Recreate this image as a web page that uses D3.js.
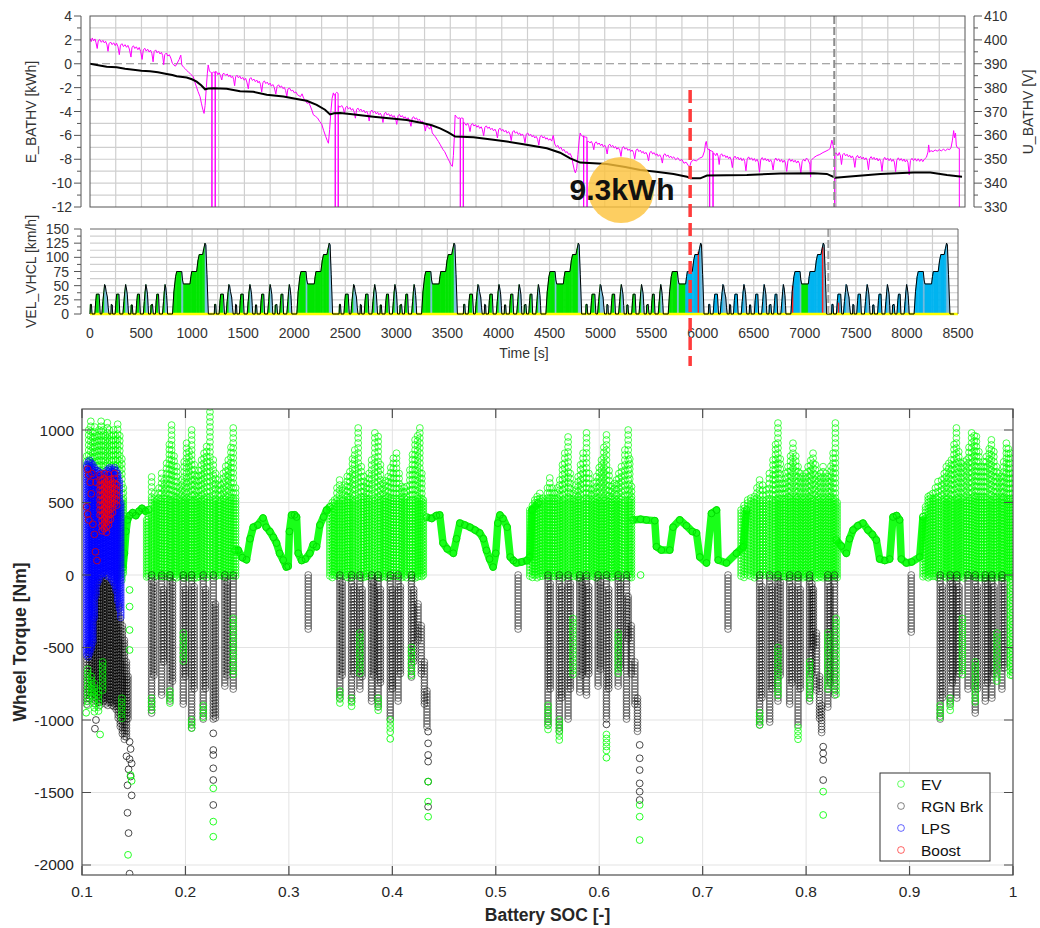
<!DOCTYPE html>
<html><head><meta charset="utf-8">
<script src="https://cdn.jsdelivr.net/npm/d3@7"></script>
<style>
body{margin:0;background:#fff;}
text{font-family:"Liberation Sans",Arial,sans-serif;}
</style></head><body>
<svg id="c" width="1040" height="928"></svg>
<script>
// ---------------- DATA ----------------
// top plot: battery energy [s, kWh]
const energy = [[0,0],[80,-0.12],[162,-0.25],[259,-0.3],[340,-0.42],[421,-0.5],[500,-0.58],[583,-0.62],[660,-0.72],[745,-0.85],[800,-0.95],[842,-1.05],[939,-1.15],[990,-1.3],[1036,-1.5],[1080,-1.8],[1118,-2.14],[1150,-2.08],[1199,-2.05],[1328,-2.1],[1458,-2.3],[1587,-2.35],[1717,-2.6],[1879,-2.75],[2008,-2.95],[2105,-3.1],[2202,-3.45],[2283,-3.85],[2332,-4.24],[2370,-4.15],[2430,-4.12],[2526,-4.2],[2753,-4.43],[3077,-4.71],[3239,-4.99],[3320,-5.15],[3401,-5.41],[3480,-5.75],[3547,-6.1],[3725,-6.16],[3900,-6.35],[4049,-6.52],[4211,-6.74],[4438,-7.08],[4567,-7.45],[4665,-7.92],[4762,-8.28],[4850,-8.32],[5021,-8.39],[5200,-8.65],[5345,-8.9],[5500,-9.05],[5669,-9.23],[5799,-9.46],[5831,-9.6],[5928,-9.6],[5993,-9.37],[6381,-9.32],[6706,-9.2],[7029,-9.17],[7158,-9.23],[7240,-9.54],[7353,-9.46],[7677,-9.23],[8001,-9.12],[8163,-9.12],[8325,-9.32],[8471,-9.46]];
// top plot: battery voltage [s, V]
const voltage = [[0,400.6],[12,399.3],[22,400.8],[35,399.6],[48,400.4],[58,398.9],[70,396.4],[80,399.6],[95,400.1],[110,399],[125,399.8],[140,398.7],[152,399.4],[165,397.9],[175,395.2],[185,398.4],[200,399.1],[215,398],[230,398.8],[245,397.6],[258,398.6],[272,397.1],[285,393.8],[296,397.8],[310,398.4],[325,397.2],[340,398],[355,396.9],[368,397.7],[382,396.2],[398,392.8],[408,396.9],[422,397.5],[436,396.4],[450,397.1],[465,395.9],[478,396.8],[492,395.2],[506,391.8],[518,395.8],[532,396.5],[546,395.3],[560,396.1],[575,394.9],[588,395.7],[601,394.3],[613,390.8],[623,395.1],[638,395.8],[652,394.6],[666,395.3],[680,394.1],[694,394.8],[706,393.4],[716,389.6],[726,393.8],[742,394.5],[756,393.2],[770,393.8],[785,392.4],[800,390.2],[815,389.4],[830,389],[848,390.3],[866,391.8],[882,393.6],[892,389.5],[910,388.5],[925,387.9],[940,387.2],[958,386.4],[975,385.8],[990,385.2],[1004,384.5],[1018,382.4],[1035,380.2],[1050,378.3],[1069,376.2],[1082,373.5],[1095,371],[1108,369.2],[1118,372.5],[1130,380],[1140,386],[1148,389.5],[1160,387],[1172,386.4],[1183,386.2],[1183,330],[1186,330],[1186,386],[1200,386.6],[1215,386.3],[1215,330],[1218,330],[1218,386.8],
[1230,386.6],[1242,385.4],[1255,386.2],[1268,385],[1280,383.2],[1290,385.7],[1302,386],[1318,385.1],[1333,385.7],[1348,384.6],[1360,385.3],[1372,384.2],[1385,384.8],[1395,383.5],[1405,380.8],[1415,384.6],[1428,385.2],[1442,384.1],[1456,384.8],[1470,383.6],[1484,384.3],[1498,383.1],[1512,383.9],[1524,382.3],[1538,379.5],[1550,383.6],[1563,384.2],[1578,383],[1592,383.6],[1606,382.5],[1620,383.2],[1632,382],[1644,382.7],[1656,381.4],[1668,378.2],[1680,382.2],[1694,382.8],[1708,381.7],[1722,382.3],[1736,381.2],[1750,381.9],[1762,380.6],[1776,381.3],[1790,380.1],[1805,377.3],[1818,380.6],[1832,381.2],[1846,380.1],[1860,380.7],[1874,379.6],[1888,380.1],[1900,378.8],[1912,376.3],[1922,379.4],[1938,379.8],[1955,378.6],[1970,378.9],[1985,377.8],[2000,378.2],[2015,377],[2030,376.6],[2045,376.2],[2060,377.4],[2075,375.6],[2095,374.3],[2110,373.4],[2125,373.8],[2140,372.3],[2155,370.6],[2170,368.6],[2190,368],[2210,367.3],[2230,365.9],[2250,364.8],[2270,362],[2290,359.5],[2305,357.8],[2316,356.7],[2328,362.5],[2340,370],[2352,375.5],[2364,377.8],[2372,376.8],[2381,377.2],[2381,330],[2384,330],[2384,377.5],[2396,378],[2410,377.6],[2410,330],[2413,330],[2413,372.4],
[2430,371.8],[2445,372.5],[2460,371.4],[2472,369],[2482,371.6],[2496,372.2],[2510,371],[2525,371.7],[2540,370.5],[2552,371.2],[2565,370],[2578,367.2],[2590,370.9],[2604,371.4],[2618,370.3],[2632,371],[2646,369.9],[2660,370.6],[2674,369.4],[2688,370.1],[2700,368.9],[2712,366],[2724,370],[2738,370.6],[2752,369.5],[2766,370.1],[2780,369],[2794,369.7],[2806,368.6],[2820,369.3],[2834,368.2],[2846,365.4],[2858,369],[2872,369.7],[2886,368.5],[2900,369.1],[2914,368],[2928,368.7],[2940,367.6],[2954,368.3],[2968,367.1],[2980,364.6],[2992,368.2],[3006,368.8],[3020,367.7],[3034,368.3],[3048,367.2],[3062,367.8],[3076,366.7],[3090,367.4],[3104,366.2],[3118,363.8],[3130,367.3],[3144,367.8],[3158,366.8],[3172,367.3],[3186,366.2],[3200,366.8],[3215,365.5],[3230,366],[3245,364.6],[3258,361.8],[3270,364.8],[3285,363.3],[3300,362.6],[3312,364.2],[3325,361],[3340,360.2],[3355,359.4],[3370,358.4],[3385,357.4],[3400,356.3],[3415,355.1],[3430,354],[3445,353.2],[3460,351.8],[3475,350.4],[3490,349.2],[3505,347.8],[3520,347],[3530,351.5],[3540,360],[3547,368.5],[3560,367.8],[3575,367],[3586,367.4],[3596,367.2],[3596,330],[3599,330],[3599,367],[3610,367.3],[3625,367.1],[3625,330],[3628,330],[3628,365.6],
[3640,365],[3655,364.2],[3668,365.1],[3680,364],[3692,361.6],[3702,364.4],[3716,365],[3730,363.9],[3744,364.5],[3758,363.4],[3772,364.1],[3786,362.9],[3800,363.6],[3812,362.4],[3824,359.8],[3836,363.4],[3850,364],[3864,362.9],[3878,363.5],[3892,362.4],[3906,363],[3920,361.9],[3934,362.6],[3946,361.5],[3958,358.9],[3970,362.5],[3984,363],[3998,361.9],[4012,362.5],[4026,361.4],[4040,362.1],[4052,360.9],[4066,361.6],[4080,360.5],[4092,357.8],[4104,361.4],[4118,362],[4132,360.9],[4146,361.5],[4160,360.4],[4174,361],[4186,359.9],[4200,360.6],[4214,359.5],[4226,356.9],[4238,360.5],[4252,361],[4266,359.9],[4280,360.5],[4294,359.4],[4308,360],[4320,358.9],[4334,359.6],[4348,358.4],[4360,355.9],[4372,359.4],[4386,360],[4400,358.9],[4414,359.5],[4428,358.4],[4440,359],[4455,358],[4470,358.6],[4485,357.6],[4500,360],[4515,356.4],[4530,355.2],[4545,355.8],[4560,354.4],[4575,355],[4590,353.6],[4605,354.1],[4620,352.8],[4635,353.2],[4650,352],[4665,352.4],[4680,350.8],[4692,348],[4705,345.5],[4715,344.3],[4728,346],[4740,352],[4752,358],[4762,361],[4772,360],[4784,359.6],[4794,359.8],[4794,330],[4797,330],[4797,359.5],[4810,359.3],[4827,359.2],[4827,330],[4830,330],[4830,357.5],
[4845,357.4],[4858,356.8],[4870,357.5],[4882,356.4],[4894,354],[4904,356.8],[4918,357.3],[4932,356.2],[4946,356.8],[4960,355.7],[4974,356.4],[4986,355.2],[5000,355.9],[5012,354.8],[5024,352.2],[5036,355.8],[5050,356.3],[5064,355.2],[5078,355.8],[5092,354.7],[5106,355.3],[5118,354.2],[5132,354.9],[5146,353.8],[5158,351.2],[5170,354.8],[5184,355.3],[5198,354.2],[5212,354.8],[5226,353.7],[5240,354.3],[5252,353.2],[5266,353.9],[5280,352.8],[5292,350.2],[5304,353.8],[5318,354.3],[5332,353.2],[5346,353.8],[5360,352.7],[5374,353.3],[5386,352.2],[5400,352.9],[5414,351.8],[5426,349.3],[5438,352.8],[5452,353.3],[5466,352.2],[5480,352.8],[5494,351.7],[5508,352.3],[5520,351.2],[5534,351.9],[5548,350.8],[5560,348.4],[5572,351.8],[5586,352.3],[5600,351.2],[5614,351.8],[5628,350.7],[5642,351.3],[5656,350.4],[5670,351],[5690,349.8],[5710,350.6],[5730,349.4],[5750,349.9],[5770,348.3],[5790,348.8],[5810,347.5],[5825,346.8],[5840,349],[5863,349.7],[5890,349.3],[5920,350.4],[5950,351],[5970,353.5],[5980,357],[5987,357.5],[5995,355],[6005,354],[6018,354.2],[6018,330],[6021,330],[6021,353.8],[6035,353.5],[6051,353.2],[6051,330],[6054,330],[6054,352.6],
[6065,352.4],[6078,351.5],[6090,352.6],[6102,351.2],[6112,347.8],[6122,351.6],[6136,352.3],[6150,351.2],[6164,351.8],[6178,350.7],[6190,351.4],[6204,350.2],[6216,351],[6228,349.8],[6240,346.5],[6252,350.5],[6266,351.3],[6280,350.2],[6294,350.9],[6308,349.7],[6322,350.6],[6334,349.4],[6348,350.3],[6360,349.1],[6372,345.2],[6384,350],[6398,351],[6412,349.9],[6426,350.6],[6440,349.5],[6454,350.3],[6466,349.1],[6480,350],[6492,348.8],[6504,344.6],[6516,349.8],[6530,350.7],[6544,349.6],[6558,350.4],[6572,349.3],[6586,350.1],[6598,348.9],[6612,349.8],[6624,348.6],[6636,345.5],[6648,349.5],[6662,350.5],[6676,349.4],[6690,350.2],[6704,349],[6718,349.9],[6730,348.7],[6744,349.6],[6756,348.4],[6768,344.9],[6780,349.3],[6794,350.2],[6808,349.1],[6822,349.9],[6836,348.8],[6850,349.6],[6864,348.4],[6878,349.3],[6892,348.2],[6905,344.2],[6918,349],[6932,350],[6946,349.2],[6960,350.5],[6975,349.8],[6993,348],[7000,342.5],[7005,349.5],[7029,350.6],[7060,351.5],[7090,352],[7120,352.8],[7150,353.4],[7175,354],[7190,354.5],[7207,358],[7218,356],[7233,353],[7233,330],[7236,330],[7236,352.5],
[7250,352.6],[7265,351.5],[7278,352.8],[7290,351.4],[7300,347.8],[7312,351.9],[7326,352.5],[7340,351.4],[7354,352.1],[7368,351],[7380,351.7],[7394,350.6],[7406,351.4],[7418,350.2],[7430,346.6],[7442,350.8],[7456,351.6],[7470,350.5],[7484,351.2],[7498,350.1],[7512,350.9],[7524,349.8],[7538,350.6],[7550,349.5],[7562,345.6],[7574,350.2],[7588,351.1],[7602,350],[7616,350.8],[7630,349.7],[7644,350.5],[7656,349.3],[7670,350.2],[7682,349],[7694,345],[7706,349.8],[7720,350.8],[7734,349.7],[7748,350.5],[7762,349.4],[7776,350.3],[7788,349.1],[7802,350],[7814,348.8],[7826,344.8],[7838,349.6],[7852,350.6],[7866,349.5],[7880,350.3],[7894,349.2],[7908,350.1],[7920,348.9],[7934,349.8],[7946,348.6],[7958,343.5],[7970,349.5],[7985,350.4],[8000,349.4],[8015,350.3],[8030,349.2],[8045,350.2],[8060,349.1],[8075,350.1],[8090,349],[8105,350],[8125,350.8],[8140,353],[8147,356],[8155,353],[8170,353.6],[8190,353.2],[8210,353.9],[8230,353.4],[8250,354],[8270,353.5],[8290,354.2],[8310,353.6],[8330,354.3],[8350,354],[8365,355],[8378,358],[8390,362],[8398,359],[8408,361],[8415,356],[8422,355],[8435,354.6],[8445,354.5],[8445,330]];

// speed plot: one drive cycle [s relative, km/h], repeated at the cycle starts
const cycleProfile = [[0,0],[4,17],[14,17],[20,0],[47,0],[57,24],[63,35],[89,35],[100,0],[116,0],[126,22],[135,38],[143,52],[150,50],[158,40],[170,30],[178,12],[185,0],[205,0],[209,17],[218,16],[222,0],[246,0],[255,24],[261,35],[283,35],[292,0],[322,0],[332,22],[341,40],[349,52],[356,46],[365,35],[372,15],[377,0],[400,0],[404,16],[414,16],[420,0],[450,0],[459,24],[465,35],[484,35],[493,0],[522,0],[532,22],[540,40],[547,52],[554,46],[563,35],[569,15],[573,0],[594,0],[598,16],[612,17],[620,0],[640,0],[649,24],[655,35],[671,35],[679,0],[710,0],[720,22],[728,40],[735,52],[742,46],[750,33],[756,15],[760,0],[808,0],[822,40],[838,66],[849,75],[898,75],[906,60],[914,53],[979,53],[988,66],[996,75],[1044,75],[1058,95],[1070,105],[1103,105],[1114,115],[1126,125],[1134,122],[1145,70],[1159,0],[1200,0]];
const cycleStarts = [0, 1217, 2439, 3656, 4854, 6055, 7262];
// drive mode intervals [from s, to s, mode]
const modeIntervals = [[0,5830,"EV"],[5830,6969,"HEV"],[6969,7034,"EV"],[7034,8500,"HEV"]];
const boostMarks = [[5957,110],[6880,50],[7174,118],[7330,20]];
const markerTime = 7230;      // grey dashed marker
const depletionTime = 5830;   // red dashed marker
const energyLabel = "9.3kWh";

// tick labels
const timeTicks = [0,500,1000,1500,2000,2500,3000,3500,4000,4500,5000,5500,6000,6500,7000,7500,8000,8500];
const energyTicks = [4,2,0,-2,-4,-6,-8,-10,-12];
const voltTicks = [410,400,390,380,370,360,350,340,330];
const speedTicks = [0,25,50,75,100,125,150];
const socTicks = [0.1,0.2,0.3,0.4,0.5,0.6,0.7,0.8,0.9,1];
const torqueTicks = [-2000,-1500,-1000,-500,0,500,1000];

// scatter: EV (green) cruise curves [SOC, Nm]
const evCruise = [
 [[0.1395,50],[0.141,150],[0.1425,300],[0.144,380],[0.146,410],[0.149,430],[0.152,410],[0.155,440],[0.158,460],[0.1615,440],[0.1645,450]],
 [[0.248,170],[0.251,172],[0.255,120],[0.259,105],[0.2625,250],[0.2655,330],[0.27,345],[0.275,393],[0.278,330],[0.2816,300],[0.285,260],[0.288,220],[0.291,150],[0.2945,103],[0.2975,55],[0.2993,60],[0.3005,300],[0.3026,414],[0.3055,415],[0.3074,400],[0.309,150],[0.3123,100],[0.316,110],[0.3203,150],[0.3235,210],[0.3267,195],[0.33,345],[0.3335,400],[0.3364,448],[0.3396,470]],
 [[0.433,400],[0.438,390],[0.4425,410],[0.4458,414],[0.449,220],[0.453,180],[0.459,150],[0.462,250],[0.4653,358],[0.47,345],[0.475,330],[0.48,310],[0.4845,290],[0.488,250],[0.491,170],[0.494,110],[0.4974,55],[0.5,150],[0.502,358],[0.504,414],[0.507,390],[0.511,330],[0.514,124],[0.517,100],[0.520,83],[0.525,90],[0.53,100],[0.533,124],[0.535,448],[0.5409,494]],
 [[0.6327,380],[0.64,385],[0.6456,380],[0.6537,375],[0.6553,195],[0.6601,172],[0.6682,172],[0.6714,330],[0.6779,380],[0.6843,340],[0.69,300],[0.694,290],[0.6972,124],[0.7037,83],[0.7085,425],[0.7134,448],[0.715,103],[0.723,83],[0.7327,150],[0.7392,195],[0.7424,448]],
 [[0.8292,241],[0.834,200],[0.8389,150],[0.842,250],[0.8453,310],[0.85,340],[0.855,358],[0.8598,310],[0.864,280],[0.8679,241],[0.8711,110],[0.876,100],[0.8808,110],[0.884,400],[0.8875,410],[0.8904,380],[0.892,110],[0.8969,83],[0.902,90],[0.9098,124],[0.913,402]]
];
// EV strips [SOC, top Nm, bottom Nm]
const evStrips = [
 [0.1045,820,720],[0.1065,1000,760],[0.1085,1060,780],[0.1105,980,760],[0.1125,1020,760],[0.1145,960,740],[0.1165,1000,720],[0.1185,1060,720],[0.1205,1000,720],[0.1225,960,720],[0.1245,1050,740],[0.1265,1000,740],[0.1285,960,740],[0.1305,1000,740],[0.1325,960,740],[0.1345,1040,700],[0.1365,960,660],[0.1385,800,-50],[0.1400,600,0],
 [0.1625,380,-20],[0.1641,448,-20],[0.1673,676,-20],[0.170,560,-20],[0.1722,517,-20],[0.1745,600,-20],[0.177,701,-20],[0.1795,650,-20],[0.1818,770,-20],[0.1845,900,-20],[0.1866,1034,-20],[0.189,820,-20],[0.1915,747,-20],[0.194,600,-20],[0.1963,655,-20],[0.1988,780,-20],[0.2011,909,-20],[0.2035,850,-20],[0.206,1000,-20],[0.2085,760,-20],[0.2108,678,-20],[0.213,720,-20],[0.2156,793,-20],[0.218,840,-20],[0.2205,886,-20],[0.2237,1159,-20],[0.2269,793,-20],[0.229,700,-20],[0.2317,655,-20],[0.234,620,-20],[0.2366,701,-20],[0.239,750,-20],[0.2414,793,-20],[0.244,880,-20],[0.2462,1014,-20],[0.2485,600,-20],
 [0.3396,470,-20],[0.342,500,-20],[0.344,517,-20],[0.3465,600,-20],[0.349,655,-20],[0.3515,600,-20],[0.3541,620,-20],[0.3565,680,-20],[0.359,712,-20],[0.3615,800,-20],[0.3637,862,-20],[0.367,1014,-20],[0.370,747,-20],[0.3725,680,-20],[0.375,632,-20],[0.3775,700,-20],[0.380,793,-20],[0.3831,980,-20],[0.3863,955,-20],[0.3885,760,-20],[0.391,632,-20],[0.3935,650,-20],[0.396,678,-20],[0.3985,740,-20],[0.401,805,-20],[0.404,840,-20],[0.4065,700,-20],[0.409,610,-20],[0.4115,600,-20],[0.4137,610,-20],[0.417,724,-20],[0.4195,830,-20],[0.422,932,-20],[0.4245,960,-20],[0.4266,1014,-20],[0.4285,700,-20],[0.430,517,-20],
 [0.5329,448,-20],[0.5355,480,-20],[0.5377,517,-20],[0.540,540,-20],[0.5426,563,-20],[0.545,530,-20],[0.5474,517,-20],[0.550,600,-20],[0.5522,669,-20],[0.5545,600,-20],[0.557,563,-20],[0.5595,600,-20],[0.5619,655,-20],[0.5645,760,-20],[0.5667,840,-20],[0.5699,952,-20],[0.572,700,-20],[0.5748,563,-20],[0.577,620,-20],[0.5796,678,-20],[0.582,760,-20],[0.5844,840,-20],[0.5877,980,-20],[0.590,700,-20],[0.5925,586,-20],[0.595,630,-20],[0.5973,678,-20],[0.600,740,-20],[0.6022,793,-20],[0.6045,880,-20],[0.607,966,-20],[0.6095,720,-20],[0.6119,610,-20],[0.6145,630,-20],[0.6167,655,-20],[0.619,700,-20],[0.6215,747,-20],[0.6248,862,-20],[0.628,1000,-20],[0.6295,800,-20],[0.6312,610,-20],
 [0.7371,448,-20],[0.740,480,-20],[0.7435,517,-20],[0.7465,530,-20],[0.750,540,-20],[0.7525,600,-20],[0.755,655,-20],[0.758,620,-20],[0.7615,586,-20],[0.7645,700,-20],[0.768,793,-20],[0.7705,900,-20],[0.7728,1048,-20],[0.775,800,-20],[0.7776,632,-20],[0.780,700,-20],[0.7825,747,-20],[0.785,820,-20],[0.7873,909,-20],[0.790,820,-20],[0.7922,747,-20],[0.7945,700,-20],[0.797,678,-20],[0.7995,700,-20],[0.8019,747,-20],[0.8045,790,-20],[0.8067,840,-20],[0.809,760,-20],[0.8116,678,-20],[0.814,700,-20],[0.8164,747,-20],[0.819,700,-20],[0.8213,678,-20],[0.824,750,-20],[0.8261,840,-20],[0.8283,1048,-20],[0.830,500,-20],
 [0.9130,402,-20],[0.9155,470,-20],[0.918,540,-20],[0.920,550,-20],[0.9227,563,-20],[0.925,600,-20],[0.9275,644,-20],[0.931,655,-20],[0.9335,700,-20],[0.9356,747,-20],[0.938,770,-20],[0.9404,793,-20],[0.943,900,-20],[0.9453,1014,-20],[0.9475,850,-20],[0.950,770,-20],[0.9525,780,-20],[0.955,793,-20],[0.9575,880,-20],[0.960,980,-20],[0.9625,960,-20],[0.9646,955,-20],[0.967,850,-20],[0.9694,747,-20],[0.972,780,-20],[0.9743,816,-20],[0.977,870,-20],[0.9791,932,-20],[0.9815,850,-20],[0.984,747,-20],[0.9865,700,-20],[0.9887,678,-20],[0.991,780,-20],[0.9936,909,-20],[0.9955,870,-20],[0.9975,840,-20],[0.9995,700,-700]
];
// EV strips lying among the braking columns
const evLowStrips = [
 [0.1055,-650,-900],[0.109,-700,-850],[0.112,-750,-950],[0.116,-800,-960],[0.120,-600,-800],[0.1385,-850,-1000],
 [0.1673,-850,-954],[0.185,-800,-900],[0.206,-1000,-1080],[0.2172,-900,-1000],[0.1979,-400,-600],[0.2462,-300,-700],
 [0.3493,-800,-900],[0.3606,-850,-910],[0.3686,-400,-700],[0.3863,-850,-935],[0.398,-1000,-1090],[0.4185,-500,-720],
 [0.5505,-900,-1070],[0.5614,-1000,-1140],[0.5745,-300,-700],[0.607,-1100,-1230],[0.6183,-400,-700],
 [0.7551,-950,-1048],[0.7728,-500,-850],[0.7922,-1050,-1160],[0.8034,-600,-850],[0.821,-400,-800],[0.829,-300,-850],
 [0.9296,-900,-1000],[0.9393,-850,-960],[0.951,-300,-700],[0.9635,-600,-900],[0.9845,-400,-750],[0.9975,0,-700]
];
const evPoints = [[0.1175,-1100],[0.104,-950],[0.1445,-1930],[0.148,-1420],[0.147,-1380],[0.146,-103],[0.146,-218],[0.146,-379],[0.146,-517],[0.2269,-1471],[0.2269,-1701],[0.2269,-1805],[0.4346,-1425],[0.4346,-1563],[0.4346,-1667],[0.398,-1130],[0.6391,-1586],[0.6391,-1667],[0.6391,-1828],[0.607,-1260],[0.640,0],[0.8165,-1494],[0.8165,-1655]];
// RGN Brk (black) strips [SOC, top Nm, bottom Nm]
const rgnStrips = [
 [0.1045,-560,-900],[0.107,-500,-860],[0.109,-480,-850],[0.111,-300,-830],[0.113,-100,-900],[0.115,-50,-880],[0.117,-30,-900],[0.119,-10,-860],[0.121,0,-880],[0.123,-20,-900],[0.125,-30,-900],[0.127,-50,-880],[0.129,-50,-900],[0.131,-80,-920],[0.133,-120,-940],[0.135,-200,-1000],[0.137,-300,-1050],[0.139,-350,-1100],[0.141,-450,-1150],[0.143,-600,-1120],[0.1445,-700,-1000],
 [0.1673,0,-954],[0.1695,-50,-700],[0.177,0,-840],[0.179,-100,-600],[0.185,0,-885],[0.1875,-50,-750],[0.1979,0,-900],[0.200,-100,-700],[0.206,0,-1070],[0.2085,-80,-800],[0.2172,0,-1000],[0.2195,-100,-800],[0.2269,0,-1000],[0.2290,-200,-1000],[0.2381,0,-770],[0.2403,-50,-700],[0.2462,0,-793],
 [0.3187,0,-380],
 [0.3493,0,-862],[0.3515,-50,-700],[0.3606,0,-885],[0.3628,-80,-700],[0.3686,0,-793],[0.3708,-100,-700],[0.3799,0,-885],[0.3821,-50,-700],[0.3863,0,-931],[0.3885,-100,-750],[0.398,0,-1000],[0.400,-100,-800],[0.4056,0,-874],[0.4078,-80,-700],[0.4185,0,-724],[0.4207,-100,-600],[0.4249,-200,-450],[0.428,-350,-700],[0.431,-600,-900],[0.4335,-800,-1050],
 [0.5216,0,-380],
 [0.5505,0,-1048],[0.5527,-60,-800],[0.5614,0,-1090],[0.5636,-80,-850],[0.5699,0,-1000],[0.5721,-60,-800],[0.5812,0,-816],[0.5834,-50,-700],[0.5877,0,-840],[0.5899,-80,-700],[0.5989,0,-770],[0.6011,-50,-650],[0.607,0,-1000],[0.6092,-100,-800],[0.6183,0,-770],[0.6205,-60,-650],[0.6264,0,-1000],[0.628,-150,-450],[0.631,-350,-700],[0.6345,-600,-900],[0.637,-850,-1080],
 [0.7245,0,-380],
 [0.7551,0,-1048],[0.7573,-80,-850],[0.7648,0,-1020],[0.767,-80,-800],[0.7728,0,-885],[0.775,-50,-700],[0.7841,0,-908],[0.7863,-80,-750],[0.7922,0,-1050],[0.7944,-100,-800],[0.8034,0,-885],[0.8056,-60,-700],[0.807,-100,-500],[0.810,-400,-800],[0.813,-700,-1000],[0.815,-900,-1100],[0.821,0,-930],[0.8232,-80,-750],[0.8275,0,-840],
 [0.9016,0,-400],
 [0.9296,0,-1000],[0.9318,-80,-850],[0.9393,0,-908],[0.9415,-60,-750],[0.9457,0,-862],[0.9479,-80,-700],[0.9565,0,-800],[0.9635,0,-955],[0.9657,-80,-800],[0.9732,0,-885],[0.9754,-60,-750],[0.9796,0,-862],[0.9818,-80,-700],[0.9893,0,-793],[0.9915,-60,-650]
];
const rgnPoints = [[0.146,-1150],[0.147,-1200],[0.146,-1270],[0.148,-1300],[0.145,-1340],[0.147,-1390],[0.144,-1450],[0.148,-1520],[0.144,-1640],[0.145,-1780],[0.146,-2060],[0.143,-1250],[0.1135,-1000],[0.1125,-1060],[0.2269,-1092],[0.2269,-1207],[0.2269,-1241],[0.2269,-1333],[0.2269,-1414],[0.2269,-1586],[0.4346,-1080],[0.4346,-1161],[0.4346,-1241],[0.4346,-1287],[0.4346,-1425],[0.4346,-1598],[0.6391,-1172],[0.6391,-1264],[0.6391,-1345],[0.6391,-1437],[0.6391,-1494],[0.6391,-1552],[0.607,-1030],[0.8165,-1184],[0.8165,-1230],[0.8165,-1276],[0.8165,-1414]];
// LPS (blue) strips
const lpsStrips = [[0.1045,760,-560],[0.106,780,-565],[0.1075,790,-540],[0.109,770,-520],[0.1105,760,-480],[0.112,740,-300],[0.1135,720,-150],[0.115,720,-60],[0.1165,710,-40],[0.118,700,-20],[0.1195,700,0],[0.121,690,10],[0.1225,700,0],[0.124,720,-10],[0.1255,730,-20],[0.127,740,0],[0.1285,730,-30],[0.13,730,-50],[0.1315,740,-80],[0.133,720,-120],[0.1345,700,-180],[0.136,650,-240],[0.1375,500,-300]];
// Boost (red)
const boostStrips = [[0.1175,690,400],[0.1195,650,300],[0.1215,700,320],[0.1235,640,280],[0.1255,690,330],[0.1275,660,380],[0.1295,640,420],[0.1315,700,480],[0.1335,620,460]];
const boostPoints = [[0.1055,730],[0.1065,690],[0.108,640],[0.1095,700],[0.1105,350],[0.1055,420],[0.1065,380],[0.112,280],[0.113,160],[0.1145,100],[0.1135,640],[0.109,560],[0.1045,470]];
const legendItems = [["EV","#00ff00"],["RGN Brk","#333333"],["LPS","#0000ff"],["Boost","#ff0000"]];

// ---------------- DRAWING ----------------
const svg = d3.select("#c");
const defs = svg.append("defs");
const axisCol = "#333";

// ===== TOP PLOT =====
const T = {l:90, r:965, t:16, b:207};
const xTop = d3.scaleLinear().domain([0,8500]).range([T.l,T.r]);
const yE = d3.scaleLinear().domain([-12,4]).range([T.b,T.t]);
const yV = d3.scaleLinear().domain([330,410]).range([T.b,T.t]);
defs.append("clipPath").attr("id","clipTop").append("rect").attr("x",T.l).attr("y",T.t).attr("width",T.r-T.l).attr("height",T.b-T.t);
const gTop = svg.append("g");
gTop.append("rect").attr("x",T.l).attr("y",T.t).attr("width",T.r-T.l).attr("height",T.b-T.t).attr("fill","#fff");
gTop.selectAll(".vg").data(d3.range(250,8500,250)).join("line")
  .attr("x1",d=>xTop(d)).attr("x2",d=>xTop(d)).attr("y1",T.t).attr("y2",T.b)
  .attr("stroke","#cfcfcf").attr("stroke-width",1.2);
gTop.selectAll(".hg").data(d3.range(-11,4,1)).join("line")
  .attr("x1",T.l).attr("x2",T.r).attr("y1",d=>yE(d)).attr("y2",d=>yE(d))
  .attr("stroke",d=>d===0?"#8a8a8a":"#cfcfcf").attr("stroke-width",d=>d===0?1:1.2)
  .attr("stroke-dasharray",d=>d===0?"8,4":null);
const gClipTop = gTop.append("g").attr("clip-path","url(#clipTop)");
gClipTop.append("path").datum(voltage)
  .attr("d",d3.line().x(d=>xTop(d[0])).y(d=>yV(d[1])))
  .attr("fill","none").attr("stroke","#ff00ff").attr("stroke-width",1);
gClipTop.append("path").datum(energy)
  .attr("d",d3.line().x(d=>xTop(d[0])).y(d=>yE(d[1])))
  .attr("fill","none").attr("stroke","#000").attr("stroke-width",2);
gTop.append("line").attr("x1",xTop(markerTime)).attr("x2",xTop(markerTime)).attr("y1",T.t).attr("y2",T.b)
  .attr("stroke","#8c8c8c").attr("stroke-width",2).attr("stroke-dasharray","8,3");
gTop.append("rect").attr("x",T.l).attr("y",T.t).attr("width",T.r-T.l).attr("height",T.b-T.t)
  .attr("fill","none").attr("stroke","#555").attr("stroke-width",1);
// left axis (energy)
const axL = 81;
gTop.append("line").attr("x1",axL).attr("x2",axL).attr("y1",T.t).attr("y2",T.b).attr("stroke","#555");
gTop.selectAll(".tl").data(d3.range(-12,5,1)).join("line")
  .attr("x1",d=>axL-(d%2===0?7:4)).attr("x2",axL).attr("y1",d=>yE(d)).attr("y2",d=>yE(d)).attr("stroke","#555");
gTop.selectAll(".tlt").data(energyTicks).join("text")
  .attr("x",72).attr("y",d=>yE(d)+5).attr("text-anchor","end").attr("font-size",14).attr("fill",axisCol).text(d=>d);
// right axis (voltage)
const axR = 974;
gTop.append("line").attr("x1",axR).attr("x2",axR).attr("y1",T.t).attr("y2",T.b).attr("stroke","#555");
gTop.selectAll(".tr").data(d3.range(330,411,5)).join("line")
  .attr("x1",axR).attr("x2",d=>axR+(d%10===0?8:4)).attr("y1",d=>yV(d)).attr("y2",d=>yV(d)).attr("stroke","#555");
gTop.selectAll(".trt").data(voltTicks).join("text")
  .attr("x",984).attr("y",d=>yV(d)+5).attr("font-size",14).attr("fill",axisCol).text(d=>d);
svg.append("text").attr("transform","translate(36,112) rotate(-90)").attr("text-anchor","middle")
  .attr("font-size",14).attr("fill",axisCol).text("E_BATHV [kWh]");
svg.append("text").attr("transform","translate(1033,112) rotate(-90)").attr("text-anchor","middle")
  .attr("font-size",14).attr("fill",axisCol).text("U_BATHV [V]");

// ===== SPEED PLOT =====
const S = {l:90, r:958, t:229, b:314};
const xSp = d3.scaleLinear().domain([0,8500]).range([S.l,S.r]);
const ySp = d3.scaleLinear().domain([0,150]).range([S.b,S.t]);
const gSp = svg.append("g");
gSp.selectAll(".vg").data(d3.range(250,8500,250)).join("line")
  .attr("x1",d=>xSp(d)).attr("x2",d=>xSp(d)).attr("y1",S.t).attr("y2",S.b)
  .attr("stroke","#cfcfcf").attr("stroke-width",1.2);
gSp.selectAll(".hg").data(d3.range(12.5,150,12.5)).join("line")
  .attr("x1",S.l).attr("x2",S.r).attr("y1",d=>ySp(d)).attr("y2",d=>ySp(d))
  .attr("stroke","#cfcfcf").attr("stroke-width",1.2);
function modeAt(t){ const m = modeIntervals.find(m=>t>=m[0] && t<m[1]); return m?m[2]:"HEV"; }
const fillCol = {EV:{acc:"#00e600",dec:"#7fc3e6"}, HEV:{acc:"#00b4f0",dec:"#74b9dc"}};
const segs = [];
const outline = [];
cycleStarts.forEach(c=>{
  cycleProfile.forEach((p,i)=>{
    outline.push([c+p[0],p[1]]);
    if(i<cycleProfile.length-1){
      const q = cycleProfile[i+1];
      if(p[1]===0 && q[1]===0) return;
      const mode = modeAt(c+(p[0]+q[0])/2);
      segs.push({t1:c+p[0],v1:p[1],t2:c+q[0],v2:q[1],col: q[1]<p[1]?fillCol[mode].dec:fillCol[mode].acc});
    }
  });
});
gSp.selectAll(".seg").data(segs).join("path")
  .attr("d",d=>`M${xSp(d.t1)},${ySp(0)}L${xSp(d.t1)},${ySp(d.v1)}L${xSp(d.t2)},${ySp(d.v2)}L${xSp(d.t2)},${ySp(0)}Z`)
  .attr("fill",d=>d.col).attr("stroke",d=>d.col).attr("stroke-width",0.6);
gSp.selectAll(".boost").data(boostMarks).join("line")
  .attr("x1",d=>xSp(d[0])).attr("x2",d=>xSp(d[0])).attr("y1",ySp(0)).attr("y2",d=>ySp(d[1]))
  .attr("stroke","#ff2020").attr("stroke-width",1.5);
gSp.append("line").attr("x1",S.l).attr("x2",S.r).attr("y1",ySp(0)).attr("y2",ySp(0))
  .attr("stroke","#ffff00").attr("stroke-width",2.5);
gSp.append("path").datum(outline).attr("d",d3.line().x(d=>xSp(d[0])).y(d=>ySp(d[1])))
  .attr("fill","none").attr("stroke","#000").attr("stroke-width",1);
gSp.append("line").attr("x1",xSp(markerTime)).attr("x2",xSp(markerTime)).attr("y1",S.t).attr("y2",S.b)
  .attr("stroke","#a0a0a0").attr("stroke-width",2).attr("stroke-dasharray","8,3");
gSp.append("path").attr("d",`M${S.l},${S.t}H${S.r}V${S.b}`).attr("fill","none").attr("stroke","#666");
gSp.append("line").attr("x1",axL).attr("x2",axL).attr("y1",S.t).attr("y2",S.b).attr("stroke","#555");
gSp.selectAll(".tl").data(d3.range(0,151,12.5)).join("line")
  .attr("x1",d=>axL-(d%25===0?7:4)).attr("x2",axL).attr("y1",d=>ySp(d)).attr("y2",d=>ySp(d)).attr("stroke","#555");
gSp.selectAll(".tlt").data(speedTicks).join("text")
  .attr("x",69).attr("y",d=>ySp(d)+5).attr("text-anchor","end").attr("font-size",14).attr("fill",axisCol).text(d=>d);
gSp.selectAll(".xt").data(timeTicks).join("text")
  .attr("x",d=>xSp(d)).attr("y",338).attr("text-anchor","middle").attr("font-size",14).attr("fill",axisCol).text(d=>d);
svg.append("text").attr("x",(S.l+S.r)/2).attr("y",358).attr("text-anchor","middle").attr("font-size",14).attr("fill",axisCol).text("Time [s]");
svg.append("text").attr("transform",`translate(36,${(S.t+S.b)/2}) rotate(-90)`).attr("text-anchor","middle")
  .attr("font-size",14).attr("fill",axisCol).text("VEL_VHCL [km/h]");

// annotation
svg.append("line").attr("x1",xTop(depletionTime)).attr("x2",xTop(depletionTime)).attr("y1",90).attr("y2",366)
  .attr("stroke","#ff3b3b").attr("stroke-width",3.5).attr("stroke-dasharray","13,6");
svg.append("circle").attr("cx",621).attr("cy",190).attr("r",33).attr("fill","#fdc23a").attr("opacity",0.8);
svg.append("text").attr("x",622).attr("y",200).attr("text-anchor","middle").attr("font-size",30)
  .attr("font-weight","bold").attr("fill","#111").text(energyLabel);

// ===== SCATTER =====
const P = {l:82, r:1013, t:409, b:875};
const xS = d3.scaleLinear().domain([0.1,1]).range([P.l,P.r]);
const yS = d3.scaleLinear().domain([-2069,1145]).range([P.b,P.t]);
defs.append("clipPath").attr("id","clipSc").append("rect").attr("x",P.l).attr("y",P.t).attr("width",P.r-P.l).attr("height",P.b-P.t);
const gS = svg.append("g");
gS.selectAll(".gx").data(socTicks.slice(1,-1)).join("line")
  .attr("x1",d=>xS(d)).attr("x2",d=>xS(d)).attr("y1",P.t).attr("y2",P.b).attr("stroke","#e3e3e3");
gS.selectAll(".gy").data(torqueTicks).join("line")
  .attr("x1",P.l).attr("x2",P.r).attr("y1",d=>yS(d)).attr("y2",d=>yS(d)).attr("stroke","#e3e3e3");
const gPts = gS.append("g").attr("clip-path","url(#clipSc)");
const R = 3.4;
// ring marks along each strip extent (marker texture of a strip)
function stripMarks(strips, stepLow, stepHigh){
  const out = [];
  strips.forEach(([s,top,bot])=>{
    const x = xS(s);
    let y = yS(top); const yb = yS(bot);
    while(y <= yb + 0.01){ out.push([x,y]); y += (yS.invert(y) > 550 ? stepHigh : stepLow); }
  });
  return out;
}
function drawRings(g, pts, col, op){
  g.append("g").selectAll("circle").data(pts).join("circle")
    .attr("cx",d=>d[0]).attr("cy",d=>d[1]).attr("r",R)
    .attr("fill","none").attr("stroke",col).attr("stroke-opacity",op).attr("stroke-width",1);
}
const toPx = pts => pts.map(p=>[xS(p[0]),yS(p[1])]);
// EV cruise bands
evCruise.forEach(seg=>{
  gPts.append("path").datum(seg).attr("d",d3.line().x(d=>xS(d[0])).y(d=>yS(d[1])))
    .attr("fill","none").attr("stroke","#00ff00").attr("stroke-width",7.5).attr("stroke-linejoin","round").attr("stroke-opacity",0.9);
  drawRings(gPts, toPx(seg), "#00d800", 0.9);
});
drawRings(gPts, stripMarks(evStrips,3,5), "#00ff00", 0.7);
drawRings(gPts, stripMarks(rgnStrips,3,3), "#000", 0.5);
drawRings(gPts, toPx(rgnPoints), "#000", 0.7);
drawRings(gPts, stripMarks(evLowStrips,4,4), "#00ff00", 0.75);
drawRings(gPts, toPx(evPoints), "#00ff00", 0.85);
drawRings(gPts, stripMarks(lpsStrips,2.5,2.5), "#0000ff", 0.6);
drawRings(gPts, stripMarks(boostStrips,5,5), "#ff0000", 0.75);
drawRings(gPts, toPx(boostPoints), "#e00000", 0.8);
// frame & ticks
gS.append("rect").attr("x",P.l).attr("y",P.t).attr("width",P.r-P.l).attr("height",P.b-P.t)
  .attr("fill","none").attr("stroke","#4d4d4d").attr("stroke-width",1.2);
gS.selectAll(".tx").data(socTicks).join("path")
  .attr("d",d=>`M${xS(d)},${P.b}v-9M${xS(d)},${P.t}v9`).attr("stroke","#4d4d4d").attr("stroke-width",1.2);
gS.selectAll(".ty").data(torqueTicks).join("path")
  .attr("d",d=>`M${P.l},${yS(d)}h9M${P.r},${yS(d)}h-9`).attr("stroke","#4d4d4d").attr("stroke-width",1.2);
gS.selectAll(".txt").data(socTicks).join("text")
  .attr("x",d=>xS(d)).attr("y",897).attr("text-anchor","middle").attr("font-size",15.5).attr("fill","#262626").text(d=>d);
gS.selectAll(".tyt").data(torqueTicks).join("text")
  .attr("x",74).attr("y",d=>yS(d)+5.5).attr("text-anchor","end").attr("font-size",15.5).attr("fill","#262626").text(d=>d);
svg.append("text").attr("x",(P.l+P.r)/2).attr("y",921).attr("text-anchor","middle").attr("font-size",17.5)
  .attr("font-weight","bold").attr("fill","#262626").text("Battery SOC [-]");
svg.append("text").attr("transform",`translate(26,${(P.t+P.b)/2}) rotate(-90)`).attr("text-anchor","middle")
  .attr("font-size",17.5).attr("font-weight","bold").attr("fill","#262626").text("Wheel Torque [Nm]");
// legend
const lg = svg.append("g");
lg.append("rect").attr("x",880).attr("y",773).attr("width",110).attr("height",88).attr("fill","#fff").attr("stroke","#333");
legendItems.forEach((it,i)=>{
  const y = 784 + i*22;
  lg.append("circle").attr("cx",901).attr("cy",y).attr("r",R).attr("fill","none").attr("stroke",it[1]).attr("stroke-opacity",0.6);
  lg.append("text").attr("x",921).attr("y",y+5.5).attr("font-size",15.5).attr("fill","#111").text(it[0]);
});
</script>
</body></html>
